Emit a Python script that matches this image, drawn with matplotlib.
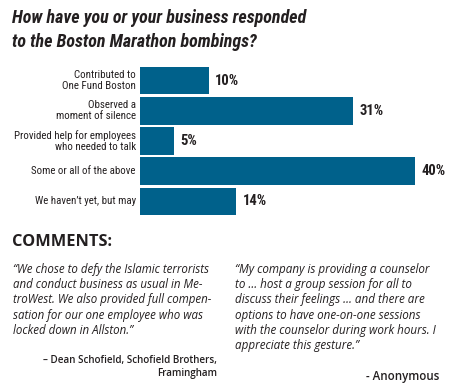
import matplotlib
matplotlib.use('Agg')
import matplotlib.pyplot as plt

categories = ['Contributed to\nOne Fund Boston',
              'Observed a\nmoment of silence',
              'Provided help for employees\nwho needed to talk',
              'Some or all of the above',
              'We haven\u2019t yet, but may']
values = [10, 31, 5, 40, 14]

title_lines = ['How have you or your business responded',
               'to the Boston Marathon bombings?']

quote_left = ['\u201cWe chose to defy the Islamic terrorists',
              'and conduct business as usual in Me-',
              'troWest. We also provided full compen-',
              'sation for our one employee who was',
              'locked down in Allston.\u201d']
author_left = ['\u2013 Dean Schofield, Schofield Brothers,', 'Framingham']

quote_right = ['\u201cMy company is providing a counselor',
               'to \u2026 host a group session for all to',
               'discuss their feelings \u2026 and there are',
               'options to have one-on-one sessions',
               'with the counselor during work hours. I',
               'appreciate this gesture.\u201d']
author_right = '- Anonymous'

W, H = 450, 390
bar_color = '#00618b'
ink = '#231f20'
narrow = ['Roboto Condensed', 'Roboto', 'DejaVu Sans']
body = ['Open Sans', 'DejaVu Sans']

fig = plt.figure(figsize=(W / 100, H / 100), dpi=100)
fig.patch.set_facecolor('white')

# bar area in pixels: x 140..415 for 0..40 %, y 65..217
ax = fig.add_axes([140 / W, 1 - 216.6 / H, 275 / W, 151.2 / H])
y = list(range(len(values)))
ax.barh(y, values, height=0.92, color=bar_color)
ax.set_xlim(0, 40)
ax.set_ylim(len(values) - 0.5, -0.5)
ax.axis('off')

for i, (c, v) in enumerate(zip(categories, values)):
    ax.annotate(c, xy=(0, i), xytext=(-3, 0), textcoords='offset points',
                ha='right', va='center', fontsize=7.8, family=narrow,
                fontstretch='condensed', color=ink, linespacing=1.1)
    ax.annotate(f'{v}%', xy=(v, i), xytext=(4.5, 0), textcoords='offset points',
                ha='left', va='center', fontsize=10.5, family=narrow,
                fontstretch='condensed', fontweight='bold', color=ink)

# title
for k, line in enumerate(title_lines):
    fig.text(12 / W, 1 - (23 + 24 * k) / H, line, ha='left', va='baseline',
             fontsize=13, family=narrow, fontstretch='condensed',
             fontweight='bold', fontstyle='italic', color=ink)

fig.text(12 / W, 1 - 246 / H, 'COMMENTS:', ha='left', va='baseline',
         fontsize=11.8, family=body, fontweight='bold', color=ink)

for k, line in enumerate(quote_left):
    fig.text(13 / W, 1 - (273 + 15.2 * k) / H, line, ha='left', va='baseline',
             fontsize=8.3, family=body, fontstyle='italic', color=ink)
for k, line in enumerate(quote_right):
    fig.text(235 / W, 1 - (273 + 15.2 * k) / H, line, ha='left', va='baseline',
             fontsize=8.4, family=body, fontstyle='italic', color=ink)

for k, line in enumerate(author_left):
    fig.text(217 / W, 1 - (363.5 + 12.8 * k) / H, line, ha='right', va='baseline',
             fontsize=7.1, family=body, fontweight='semibold', color=ink)
fig.text(439 / W, 1 - 380 / H, author_right, ha='right', va='baseline',
         fontsize=8.3, family=body, fontweight='semibold', color=ink)

fig.savefig('out.png', dpi=100, facecolor='white')
